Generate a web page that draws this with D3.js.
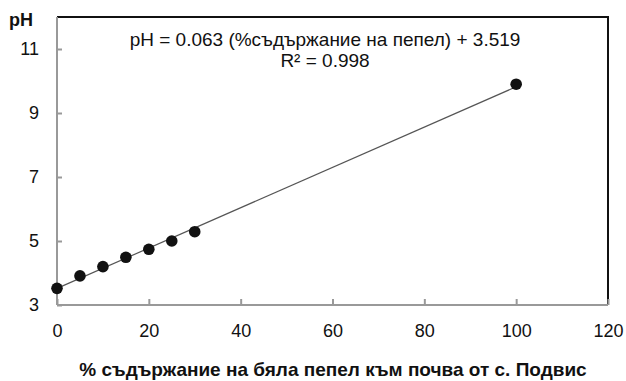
<!DOCTYPE html>
<html>
<head>
<meta charset="utf-8">
<script src="https://cdn.jsdelivr.net/npm/d3@7"></script>
<style>
  body { margin: 0; background: #fff; }
  text { font-family: "Liberation Sans", Arial, sans-serif; fill: #111; }
</style>
</head>
<body>
<svg></svg>
<script>
const WIDTH = 626,
  HEIGHT = 381;
const margin = { left: 57, top: 17, right: 18, bottom: 76 };

// data
const ashPercent = [0, 5, 10, 15, 20, 25, 30, 100];
const phValues = [3.52, 3.91, 4.2, 4.49, 4.74, 5.0, 5.29, 9.9];
const xTicks = [0, 20, 40, 60, 80, 100, 120];
const yTicks = [3, 5, 7, 9, 11];
const slope = 0.063,
  intercept = 3.519;
const equationLines = ["pH = 0.063 (%съдържание на пепел) + 3.519", "R² = 0.998"];
const xTitle = "% съдържание на бяла пепел към почва от с. Подвис";
const yTitle = "pH";

const svg = d3.select("svg").attr("width", WIDTH).attr("height", HEIGHT);

const x = d3
  .scaleLinear()
  .domain([0, 120])
  .range([margin.left, WIDTH - margin.right]);
const y = d3
  .scaleLinear()
  .domain([3, 12])
  .range([HEIGHT - margin.bottom, margin.top]);

// frame: top and right black
svg
  .append("path")
  .attr("d", `M${x(0)},${y(12)}H${x(120)}V${y(3)}`)
  .attr("fill", "none")
  .attr("stroke", "#111")
  .attr("stroke-width", 2);

// left axis
svg
  .append("g")
  .attr("transform", `translate(${x(0)},0)`)
  .call(
    d3
      .axisLeft(y)
      .tickValues(yTicks)
      .tickSize(-5)
      .tickPadding(18)
      .tickFormat(d3.format("d"))
  )
  .call(g => g.selectAll("line, path").attr("stroke", "#999").attr("stroke-width", 2))
  .call(g => g.select(".domain").attr("d", `M0,${y(12)}V${y(3)}`))
  .call(g => g.selectAll("text").style("font-size", "18px").attr("fill", "#111"));

// bottom axis
svg
  .append("g")
  .attr("transform", `translate(0,${y(3)})`)
  .call(
    d3
      .axisBottom(x)
      .tickValues(xTicks)
      .tickSize(-6)
      .tickPadding(19)
      .tickFormat(d3.format("d"))
  )
  .call(g => g.selectAll("line, path").attr("stroke", "#999").attr("stroke-width", 2))
  .call(g => g.select(".domain").attr("d", `M${x(0)},0H${x(120)}`))
  .call(g => g.selectAll("text").style("font-size", "18px").attr("fill", "#111"));

// trend line
svg
  .append("line")
  .attr("x1", x(0))
  .attr("y1", y(intercept))
  .attr("x2", x(100))
  .attr("y2", y(slope * 100 + intercept))
  .attr("stroke", "#555")
  .attr("stroke-width", 1.2);

// points
svg
  .append("g")
  .selectAll("circle")
  .data(ashPercent)
  .enter()
  .append("circle")
  .attr("cx", d => x(d))
  .attr("cy", (d, i) => y(phValues[i]))
  .attr("r", 5.8)
  .attr("fill", "#111");

// equation
svg
  .append("g")
  .selectAll("text")
  .data(equationLines)
  .enter()
  .append("text")
  .attr("x", 325)
  .attr("y", (d, i) => 46 + i * 21)
  .attr("text-anchor", "middle")
  .style("font-size", "19px")
  .text(d => d);

// axis titles
svg
  .append("text")
  .attr("x", 9)
  .attr("y", 26)
  .style("font-size", "18px")
  .style("font-weight", "bold")
  .text(yTitle);

svg
  .append("text")
  .attr("x", 333)
  .attr("y", 376)
  .attr("text-anchor", "middle")
  .style("font-size", "19px")
  .style("font-weight", "bold")
  .text(xTitle);
</script>
</body>
</html>
